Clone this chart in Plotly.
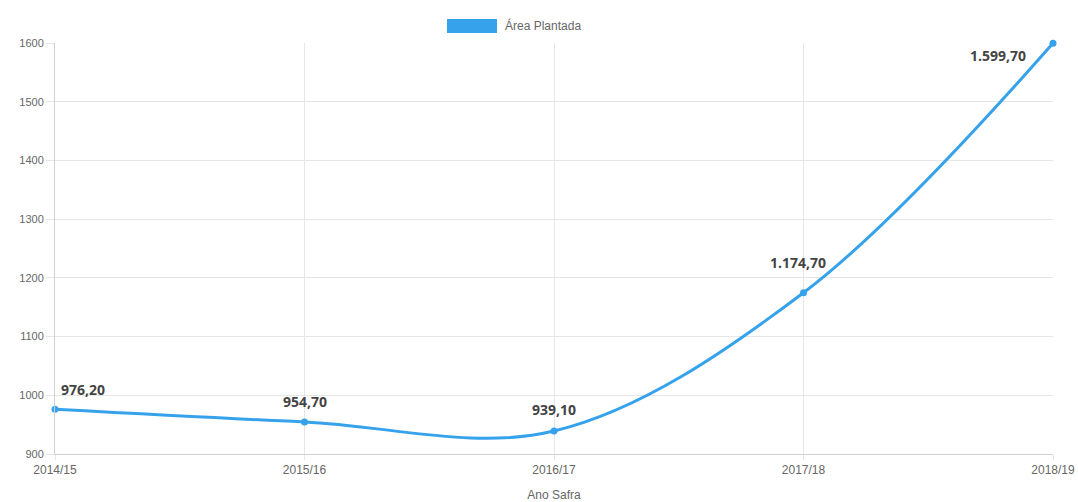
import plotly.graph_objects as go

categories = ["2014/15", "2015/16", "2016/17", "2017/18", "2018/19"]
area_plantada = [976.2, 954.7, 939.1, 1174.7, 1599.7]
value_labels = ["976,20", "954,70", "939,10", "1.174,70", "1.599,70"]
y_ticks = [900, 1000, 1100, 1200, 1300, 1400, 1500, 1600]

blue = "#36A2EB"

fig = go.Figure()
fig.add_trace(go.Scatter(
    x=categories, y=area_plantada, mode="lines+markers",
    line=dict(color=blue, width=3, shape="spline", smoothing=1.0),
    marker=dict(color=blue, size=7),
    name="Área Plantada", cliponaxis=False, showlegend=False,
))

label_pos = [
    dict(xanchor="left", xshift=4, yshift=20),
    dict(xanchor="center", xshift=0, yshift=20),
    dict(xanchor="center", xshift=0, yshift=22),
    dict(xanchor="center", xshift=-6, yshift=30),
    dict(xanchor="right", xshift=-25, yshift=-12),
]
for c, v, t, p in zip(categories, area_plantada, value_labels, label_pos):
    fig.add_annotation(x=c, y=v, text="<b>" + t + "</b>", showarrow=False,
                       font=dict(family="Open Sans, Arial", size=14, color="#444"),
                       xanchor=p["xanchor"], yanchor="middle",
                       xshift=p["xshift"], yshift=p["yshift"])

# legend swatch + text
fig.add_shape(type="rect", xref="paper", yref="paper",
              x0=(447 - 55) / 998, x1=(497 - 55) / 998,
              y0=1 + (43 - 33) / 411, y1=1 + (43 - 19) / 411,
              fillcolor=blue, line=dict(width=0))
fig.add_annotation(xref="paper", yref="paper", x=(503 - 55) / 998, y=1 + (43 - 26) / 411,
                   text="Área Plantada", showarrow=False, xanchor="left", yanchor="middle",
                   font=dict(family="Arial", size=12, color="#666"))

fig.update_layout(
    width=1078, height=502,
    margin=dict(l=55, r=25, t=43, b=48),
    paper_bgcolor="white", plot_bgcolor="white",
    font=dict(family="Arial", size=11, color="#666"),
    xaxis=dict(
        type="category", range=[0, 4], showgrid=True, gridcolor="#e6e6e6",
        ticks="outside", ticklen=5, tickcolor="#e6e6e6", automargin=False,
        showline=True, linecolor="#d0d0d0", linewidth=1,
        title=dict(text="Ano Safra", font=dict(size=12, color="#666"), standoff=14),
        tickfont=dict(size=12, color="#666"), zeroline=False,
    ),
    yaxis=dict(
        range=[900, 1600], tickvals=y_ticks, showgrid=True, gridcolor="#e6e6e6",
        ticks="outside", ticklen=8, tickcolor="#e6e6e6", automargin=False,
        showline=True, linecolor="#d0d0d0", linewidth=1,
        tickfont=dict(size=11, color="#666"), zeroline=False,
    ),
)

fig.write_html("out.html")
